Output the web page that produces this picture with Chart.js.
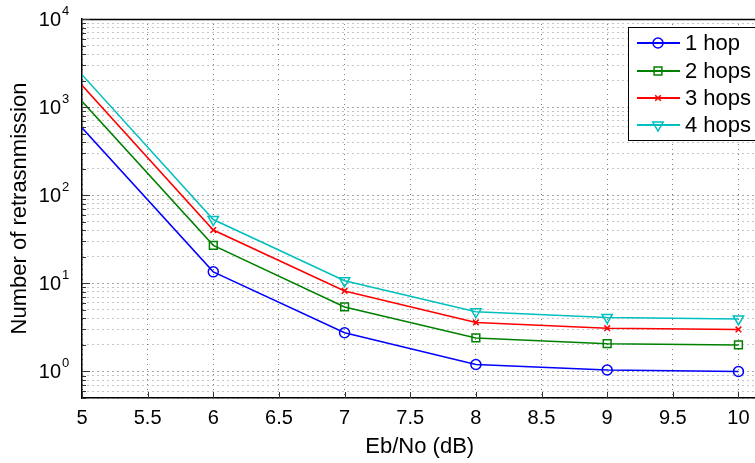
<!DOCTYPE html>
<html>
<head>
<meta charset="utf-8">
<title>Retransmissions vs Eb/No</title>
<script src="https://cdn.jsdelivr.net/npm/chart.js@4/dist/chart.umd.min.js"></script>
<style>
  html, body { margin: 0; padding: 0; background: #fff; }
  /* the reference figure is cut off on its right side, so the canvas is a bit wider than the view */
  #wrap { width: 755px; height: 463px; overflow: hidden; }
</style>
</head>
<body>
<div id="wrap"><canvas id="chart" width="765" height="463"></canvas></div>
<script>
/* ── Data ──────────────────────────────────────────────────────────────── */
const ebno   = [5, 6, 7, 8, 9, 10];
const hop1   = [583, 13.5, 2.75, 1.2, 1.04, 1.0];
const hop2   = [1164, 27, 5.4, 2.4, 2.07, 2.0];
const hop3   = [1766, 40.3, 8.2, 3.6, 3.1, 3.0];
const hop4   = [2333, 53, 10.7, 4.75, 4.1, 3.95];
const labels = ['1 hop', '2 hops', '3 hops', '4 hops'];

const xTicks    = [5, 5.5, 6, 6.5, 7, 7.5, 8, 8.5, 9, 9.5, 10];
const yDecades  = [0, 1, 2, 3, 4];          // exponents shown as 10^k
const xMin = 5, xMax = 10.145;
const yMin = 0.5, yMax = 10000;

const FONT = 'Liberation Sans, Arial, Helvetica, sans-serif';

/* ── Dataset styling ───────────────────────────────────────────────────── */
const series = [
  { data: hop1, color: '#0000ff', style: 'circle',   radius: 5,   rot: 0 },
  { data: hop2, color: '#008000', style: 'rect',     radius: 5.5, rot: 0 },
  { data: hop3, color: '#ff0000', style: 'crossRot', radius: 4,   rot: 0 },
  { data: hop4, color: '#00bfbf', style: 'triangle', radius: 6,   rot: 180 },
];

const datasets = series.map((s, i) => ({
  label: labels[i],
  data: ebno.map((x, j) => ({ x, y: s.data[j] })),
  borderColor: s.color,
  borderWidth: 1.5,
  backgroundColor: 'transparent',
  pointStyle: s.style,
  pointRotation: s.rot,
  pointBorderColor: s.color,
  pointBackgroundColor: 'transparent',
  pointBorderWidth: 1.5,
  // first point has no marker in the reference
  pointRadius: ctx => ctx.dataIndex === 0 ? 0 : s.radius,
  tension: 0,
}));

// log ticks: 0.5..0.9 then 1..9 per decade up to 10^4
function buildLogTicks() {
  const out = [];
  for (let m = 5; m <= 9; m++) out.push({ value: m / 10 });
  for (let k = 0; k < 4; k++) {
    for (let m = 1; m <= 9; m++) out.push({ value: m * Math.pow(10, k) });
  }
  out.push({ value: yMax });
  return out;
}
const isDecade = v => Math.abs(Math.log10(v) - Math.round(Math.log10(v))) < 1e-9;

/* ── Plugin: top frame, inward ticks, 10^k labels, legend ──────────────── */
const decor = {
  id: 'decor',
  afterDraw(chart) {
    const { ctx, chartArea: a, scales: { x, y } } = chart;
    ctx.save();

    // top frame line
    ctx.strokeStyle = '#000';
    ctx.lineWidth = 1.5;
    ctx.beginPath();
    ctx.moveTo(a.left, a.top + 0.5);
    ctx.lineTo(a.right, a.top + 0.5);
    ctx.stroke();

    // inward ticks
    ctx.lineWidth = 1;
    ctx.strokeStyle = '#333';
    ctx.beginPath();
    y.ticks.forEach(t => {
      const py = Math.round(y.getPixelForValue(t.value)) + 0.5;
      const len = isDecade(t.value) ? 8 : 4;
      ctx.moveTo(a.left, py);
      ctx.lineTo(a.left + len, py);
    });
    xTicks.forEach(v => {
      const px = Math.round(x.getPixelForValue(v)) + 0.5;
      ctx.moveTo(px, a.bottom);
      ctx.lineTo(px, a.bottom - 6);
    });
    ctx.stroke();

    // y labels 10^k
    ctx.fillStyle = '#000';
    yDecades.forEach(k => {
      const py = y.getPixelForValue(Math.pow(10, k));
      ctx.font = '20px ' + FONT;
      ctx.textAlign = 'right';
      ctx.textBaseline = 'middle';
      ctx.fillText('10', 61, py + 1);
      ctx.font = '13px ' + FONT;
      ctx.textAlign = 'left';
      ctx.fillText(String(k), 62, py - 8);
    });

    // legend
    const lx = 628.5, ly = 27.5, lw = 140, lh = 113;
    ctx.fillStyle = '#fff';
    ctx.fillRect(lx, ly, lw, lh);
    ctx.strokeStyle = '#000';
    ctx.lineWidth = 1;
    ctx.strokeRect(lx, ly, lw, lh);
    const rows = [43, 71, 98, 125];
    chart.data.datasets.forEach((ds, i) => {
      const ry = rows[i];
      const s = series[i];
      ctx.strokeStyle = s.color;
      ctx.lineWidth = 2;
      ctx.beginPath();
      ctx.moveTo(637, ry);
      ctx.lineTo(680, ry);
      ctx.stroke();
      ctx.lineWidth = 1.5;
      if (Chart.helpers && Chart.helpers.drawPoint) {
        ctx.fillStyle = 'transparent';
        Chart.helpers.drawPoint(ctx, {
          pointStyle: s.style, rotation: s.rot, radius: s.radius, borderWidth: 1.5
        }, 658, ry);
      }
      ctx.fillStyle = '#000';
      ctx.font = '22px ' + FONT;
      ctx.textAlign = 'left';
      ctx.textBaseline = 'middle';
      ctx.fillText(ds.label, 685, ry + 1);
    });

    ctx.restore();
  }
};

/* ── Chart ─────────────────────────────────────────────────────────────── */
new Chart(document.getElementById('chart'), {
  type: 'line',
  data: { datasets },
  plugins: [decor],
  options: {
    responsive: false,
    animation: false,
    devicePixelRatio: 1,
    layout: { padding: { left: 0, top: 19, right: 3, bottom: 0 } },
    plugins: { legend: { display: false }, tooltip: { enabled: false } },
    scales: {
      x: {
        type: 'linear',
        min: xMin,
        max: xMax,
        afterBuildTicks: scale => { scale.ticks = xTicks.map(v => ({ value: v })); },
        afterFit: scale => { scale.height = 65; scale.paddingLeft = 0; scale.paddingRight = 0; },
        grid: { color: 'rgba(0,0,0,0.5)', lineWidth: 1, drawTicks: false },
        border: { display: true, color: '#000', width: 1.5, dash: [1, 4] },
        ticks: {
          padding: 8,
          color: '#000',
          font: { family: FONT, size: 20 },
          maxRotation: 0,
          autoSkip: false,
          callback: v => String(v),
        },
        title: {
          display: true,
          text: 'Eb/No (dB)',
          color: '#000',
          font: { family: FONT, size: 22 },
          padding: { top: 0, bottom: 3 },
        },
      },
      y: {
        type: 'logarithmic',
        min: yMin,
        max: yMax,
        afterBuildTicks: scale => { scale.ticks = buildLogTicks(); },
        afterFit: scale => { scale.width = 82; },
        grid: {
          color: ctx => (ctx.tick && isDecade(ctx.tick.value)) ? 'rgba(0,0,0,0.7)' : 'rgba(0,0,0,0.45)',
          lineWidth: 1,
          drawTicks: false,
        },
        border: { display: true, color: '#000', width: 1.5, dash: [1, 4] },
        ticks: { display: false },
        title: {
          display: true,
          text: 'Number of retrasnmission',
          color: '#000',
          font: { family: FONT, size: 22 },
          padding: { top: 7, bottom: 0 },
        },
      },
    },
  },
});
</script>
</body>
</html>
